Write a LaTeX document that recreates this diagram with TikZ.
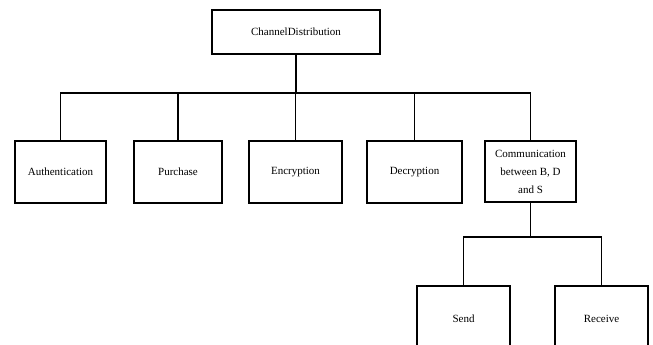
\documentclass[tikz,border=0pt]{standalone}
\usepackage{fontspec}
\setmainfont{Liberation Serif}
\begin{document}
\begin{tikzpicture}[x=1pt,y=-1pt,
  box/.style={draw, line width=1.7pt, inner sep=0pt, align=center, font=\fontsize{11}{18}\selectfont},
  conn/.style={line width=1.7pt}]
\useasboundingbox (0,0) rectangle (653,345);
\node[box, minimum width=168pt, minimum height=44pt] (top) at (296,32) {ChannelDistribution};
\node[box, minimum width=91pt, minimum height=62pt] (auth) at (60.5,172) {Authentication};
\node[box, minimum width=88pt, minimum height=62pt] (purch) at (178,172) {Purchase};
\node[box, minimum width=93pt, minimum height=62pt] (enc) at (295.5,172) {Encryption};
\node[box, minimum width=95pt, minimum height=62pt] (dec) at (414.5,172) {Decryption};
\node[box, minimum width=91pt, minimum height=61pt] (comm) at (530.5,171.5) {Communication\\between B, D\\and S};
\node[box, minimum width=93pt, minimum height=66pt] (send) at (463.5,319) {Send};
\node[box, minimum width=93pt, minimum height=66pt] (recv) at (601.5,319) {Receive};
\coordinate (bus) at (296,93);
\coordinate (bus2) at (530.5,237);
\draw[conn] (top.south) -- (bus);
\draw[conn] (auth.north) |- (bus) -| (comm.north);
\draw[conn] (purch.north) -- (purch.north |- bus);
\draw[conn] (enc.north) -- (enc.north |- bus);
\draw[conn] (dec.north) -- (dec.north |- bus);
\draw[conn] (comm.south) -- (bus2);
\draw[conn] (send.north) |- (bus2) -| (recv.north);
\end{tikzpicture}
\end{document}
